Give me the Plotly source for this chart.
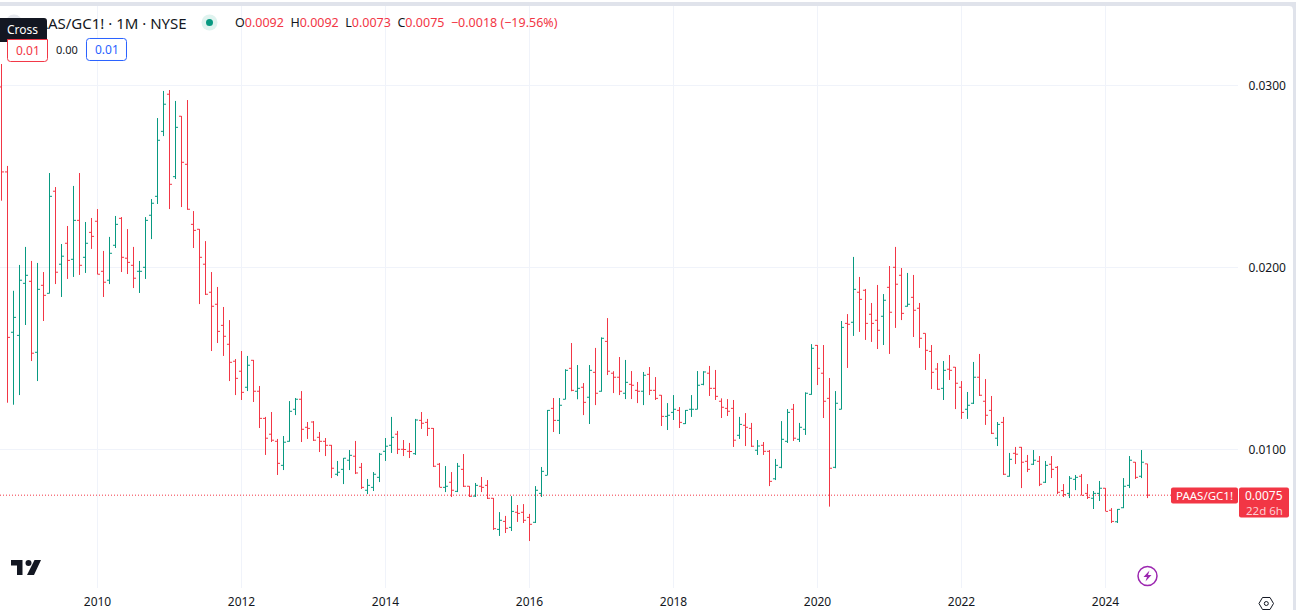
import plotly.graph_objects as go

START_YEAR, START_MONTH = 2008, 9
open_vals = [.02991,.02524,.01643,.01626,.01912,.01923,.01533,.01901,.01857,.02418,.02017,.02132,.02044,.02258,.02055,.02192,.02253,.01978,.01929,.02121,.02269,.02050,.02011,.01978,
.02000,.02286,.02390,.02747,.02951,.02498,.02830,.02566,.02236,.02209,.02017,.01863,.01797,.01681,.01577,.01484,.01429,.01341,.01489,.01319,.01170,.01083,.01044,.00912,
.01044,.01220,.01275,.01121,.01150,.01066,.01044,.01022,.00863,.00890,.00940,.00962,.00901,.00775,.00791,.00846,.00989,.01022,.01083,.01000,.00989,.00976,.01159,.01148,
.01115,.00918,.00791,.00819,.00769,.00890,.00797,.00743,.00797,.00802,.00731,.00560,.00604,.00571,.00654,.00654,.00626,.00599,.00758,.00857,.01225,.01159,.01275,.01445,
.01319,.01341,.01286,.01423,.01319,.01593,.01418,.01396,.01308,.01357,.01324,.01319,.01412,.01324,.01297,.01181,.01203,.01214,.01141,.01220,.01220,.01357,.01418,.01335,
.01264,.01225,.01225,.01077,.01132,.01115,.00995,.01022,.00989,.00838,.00901,.01044,.01220,.01055,.01110,.01302,.01571,.01418,.01280,.00901,.01220,.01692,.01698,.01863,
.01874,.01742,.01709,.01731,.01890,.02000,.01956,.01786,.01835,.01775,.01637,.01538,.01441,.01335,.01440,.01451,.01341,.01220,.01253,.01396,.01264,.01214,.01061,.01148,
.00852,.00978,.01011,.00934,.00918,.00934,.00819,.00918,.00901,.00773,.00758,.00835,.00852,.00758,.00731,.00758,.00786,.00665,.00602,.00679,.00802,.00929,.00852,.00920]
high_vals = [.03117,.02557,.01871,.02013,.02112,.02035,.02024,.01974,.02518,.02441,.02128,.02227,.02447,.02518,.02249,.02271,.02320,.02090,.02167,.02282,.02276,.02210,.02112,.02035,
.02276,.02375,.02820,.02969,.02974,.02914,.02831,.02919,.02309,.02210,.02144,.01974,.01892,.01782,.01710,.01496,.01540,.01513,.01491,.01348,.01178,.01205,.01057,.01073,
.01265,.01282,.01320,.01150,.01155,.01095,.01062,.01024,.00936,.00952,.00996,.01046,.00925,.00837,.00875,.00980,.01062,.01178,.01101,.01051,.01035,.01167,.01205,.01167,
.01117,.00925,.00908,.00875,.00925,.00974,.00798,.00815,.00848,.00831,.00732,.00655,.00634,.00743,.00694,.00699,.00645,.00798,.00903,.01216,.01282,.01282,.01440,.01584,
.01463,.01364,.01463,.01557,.01615,.01721,.01429,.01507,.01491,.01430,.01370,.01425,.01452,.01397,.01298,.01254,.01298,.01232,.01216,.01298,.01430,.01429,.01458,.01436,
.01280,.01276,.01271,.01178,.01199,.01145,.01051,.01040,.00996,.00947,.01155,.01221,.01249,.01145,.01313,.01578,.01573,.01573,.01392,.01320,.01705,.01743,.02057,.01947,
.01881,.01804,.01903,.01853,.02007,.02112,.01996,.01969,.01958,.01804,.01637,.01573,.01474,.01485,.01518,.01452,.01375,.01315,.01480,.01524,.01386,.01293,.01150,.01178,
.00980,.01013,.01013,.00969,.00996,.00963,.00936,.00963,.00908,.00809,.00853,.00859,.00864,.00809,.00771,.00826,.00787,.00677,.00672,.00842,.00963,.00930,.00996,.00920]
low_vals = [.02366,.01256,.01245,.01298,.01683,.01485,.01375,.01705,.01857,.01908,.01837,.01936,.01947,.01958,.01969,.02101,.01962,.01837,.01908,.02106,.01974,.01963,.01886,.01859,
.01936,.02155,.02348,.02721,.02320,.02485,.02331,.02316,.02106,.01798,.01848,.01540,.01584,.01513,.01375,.01298,.01271,.01320,.01260,.01117,.00969,.01040,.00859,.00886,
.01042,.01188,.01040,.01057,.01046,.00985,.00963,.00842,.00853,.00809,.00886,.00864,.00782,.00754,.00771,.00820,.00936,.00980,.00974,.00963,.00952,.00969,.01112,.01073,
.00903,.00793,.00765,.00738,.00765,.00793,.00738,.00738,.00765,.00727,.00557,.00524,.00540,.00551,.00601,.00595,.00496,.00595,.00738,.00859,.01095,.01084,.01275,.01319,
.01275,.01188,.01139,.01243,.01317,.01408,.01309,.01298,.01276,.01276,.01254,.01243,.01298,.01271,.01128,.01106,.01161,.01117,.01139,.01178,.01220,.01352,.01293,.01271,
.01172,.01183,.01013,.01057,.01018,.01013,.00969,.00969,.00798,.00831,.00896,.01035,.01046,.01040,.01079,.01300,.01353,.01172,.00685,.00896,.01220,.01447,.01623,.01645,
.01601,.01590,.01551,.01573,.01524,.01667,.01710,.01784,.01617,.01557,.01436,.01331,.01326,.01271,.01381,.01221,.01167,.01167,.01249,.01293,.01134,.01084,.01018,.00859,
.00850,.00919,.00787,.00875,.00914,.00798,.00815,.00842,.00754,.00738,.00732,.00776,.00749,.00727,.00672,.00716,.00661,.00595,.00595,.00677,.00787,.00837,.00842,.00732]
close_vals = [.02524,.01615,.01725,.01929,.01956,.01528,.01879,.01846,.02390,.01973,.02061,.02038,.02258,.02011,.02132,.02170,.01962,.01918,.02077,.02236,.02055,.02027,.01940,.01978,
.02258,.02352,.02698,.02896,.02456,.02769,.02577,.02319,.02203,.02055,.01852,.01786,.01648,.01621,.01478,.01390,.01313,.01462,.01319,.01170,.01061,.01050,.00923,.01039,
.01209,.01275,.01110,.01115,.01050,.01044,.01022,.00896,.00874,.00951,.00967,.00870,.00791,.00802,.00863,.00973,.01017,.01066,.01000,.00999,.00988,.01161,.01143,.01115,
.00907,.00791,.00797,.00775,.00907,.00797,.00742,.00802,.00791,.00731,.00564,.00610,.00566,.00659,.00648,.00610,.00588,.00775,.00879,.01214,.01159,.01242,.01434,.01324,
.01335,.01258,.01434,.01308,.01610,.01429,.01396,.01319,.01368,.01352,.01319,.01407,.01324,.01280,.01181,.01187,.01220,.01148,.01214,.01220,.01352,.01425,.01335,.01291,
.01231,.01209,.01050,.01137,.01121,.01017,.01018,.00989,.00824,.00912,.01055,.01203,.01061,.01121,.01308,.01555,.01445,.01264,.00896,.01253,.01670,.01687,.01879,.01824,
.01692,.01692,.01654,.01819,.01753,.01907,.01747,.01797,.01764,.01610,.01544,.01423,.01330,.01434,.01434,.01363,.01203,.01242,.01396,.01297,.01187,.01088,.01137,.00863,
.00945,.00973,.00929,.00890,.00940,.00808,.00912,.00890,.00764,.00751,.00841,.00846,.00747,.00736,.00758,.00786,.00659,.00604,.00670,.00797,.00940,.00846,.00929,.00748]
year_ticks = [2010, 2012, 2014, 2016, 2018, 2020, 2022, 2024]
price_ticks = [0.01, 0.02, 0.03]
last_price = 0.00748
FONT = "Noto Sans, Open Sans, sans-serif"
RED, GREEN, INK = "#f23645", "#089981", "#131722"
GRID, EDGE = "#f0f3fa", "#e0e3eb"

months = []
for k in range(len(close_vals)):
    m = START_MONTH - 1 + k
    months.append(f"{START_YEAR + m // 12}-{m % 12 + 1:02d}")

W, H = 1296, 610
PL, PR, PT, PB = 0, 1238, 6, 588


def px(x, y):
    return (x - PL) / (PR - PL), 1 - (y - PT) / (PB - PT)


def fmt(x, y):
    a, b = px(x, y)
    return f"{a:.5f},{b:.5f}"


def rrect(x0, y0, x1, y1, r=3, fill="rgba(0,0,0,0)", line=None, lw=1, corners=(1, 1, 1, 1)):
    tl, tr, br, bl = [r * c for c in corners]
    d = (f"M{fmt(x0 + tl, y0)} L{fmt(x1 - tr, y0)} Q{fmt(x1, y0)} {fmt(x1, y0 + tr)} "
         f"L{fmt(x1, y1 - br)} Q{fmt(x1, y1)} {fmt(x1 - br, y1)} L{fmt(x0 + bl, y1)} "
         f"Q{fmt(x0, y1)} {fmt(x0, y1 - bl)} L{fmt(x0, y0 + tl)} Q{fmt(x0, y0)} {fmt(x0 + tl, y0)} Z")
    return dict(type="path", xref="paper", yref="paper", path=d, fillcolor=fill,
                line=dict(color=line or fill, width=lw if line else 0), layer="above")


def rect(x0, y0, x1, y1, fill):
    return rrect(x0, y0, x1, y1, 0, fill)


def path(points, fill="rgba(0,0,0,0)", line=None, lw=1):
    parts = [("M" if j == 0 else "L") + fmt(x, y) for j, (x, y) in enumerate(points)]
    return dict(type="path", xref="paper", yref="paper", path=" ".join(parts) + " Z",
                fillcolor=fill, line=dict(color=line or fill, width=lw if line else 0), layer="above")


def circle(cx, cy, r, fill="rgba(0,0,0,0)", line=None, lw=1):
    a, b = px(cx - r, cy + r)
    c, d = px(cx + r, cy - r)
    return dict(type="circle", xref="paper", yref="paper", x0=a, y0=b, x1=c, y1=d,
                fillcolor=fill, line=dict(color=line or fill, width=lw if line else 0), layer="above")


def text(x, y, s, color=INK, size=12, anchor="left"):
    a, b = px(x, y)
    return dict(xref="paper", yref="paper", x=a, y=b, text=s, showarrow=False, xanchor=anchor, yanchor="middle",
                font=dict(family=FONT, size=size, color=color), borderpad=0, borderwidth=0)


fig = go.Figure(go.Ohlc(
    x=months, open=open_vals, high=high_vals, low=low_vals, close=close_vals,
    tickwidth=0.42, hoverinfo="skip",
    increasing=dict(line=dict(color=GREEN, width=1)),
    decreasing=dict(line=dict(color=RED, width=1)),
))

shapes = [
    dict(type="line", xref="paper", yref="y", x0=0, x1=1, y0=last_price, y1=last_price,
         line=dict(color=RED, width=1, dash="1px,2px"), layer="above"),
    rect(0, 2, 1296, 6, EDGE),
    rect(1293, 2, 1296, 610, EDGE),
    path([(1293, 6), (1289, 6), (1291.5, 6.6), (1292.4, 7.5), (1293, 10)], EDGE),
    # header controls
    circle(14, 23, 8.5, "#e6e8ee"),
    rrect(0, 18, 47, 42, 3, INK, corners=(0, 1, 1, 0)),
    rrect(7.5, 39.5, 47.5, 61.5, 3, "#ffffff", RED, 1, corners=(0, 0, 1, 1)),
    rrect(86.5, 38.5, 126.5, 60.5, 3, "#ffffff", "#2962ff", 1),
    circle(209.5, 22.5, 8, "#dff3ef"),
    circle(209.5, 22.5, 3.5, GREEN),
    # last-price labels
    rrect(1171, 487.5, 1238, 503.5, 2, RED),
    rrect(1239, 487.5, 1289, 517.5, 2, RED),
    # logo
    path([(11, 560), (22.5, 560), (22.5, 575), (17, 575), (17, 565.5), (11, 565.5)], INK),
    circle(28.5, 563, 3, INK),
    path([(34.5, 560), (41, 560), (34, 575), (27, 575)], INK),
    # lightning badge
    circle(1147.5, 576, 9.5, "#ffffff", "#9c27b0", 1.5),
    path([(1149.5, 570.5), (1143.5, 577), (1147, 577), (1145.5, 581.5), (1151.5, 575), (1148, 575)], "#9c27b0"),
    # settings hexagon
    path([(1259, 603.5), (1262.5, 597.5), (1270, 597.5), (1273.5, 603.5), (1270, 609.5), (1262.5, 609.5)],
         "#ffffff", INK, 1),
    circle(1266.3, 603.5, 2, "#ffffff", INK, 1),
]

annotations = [
    text(30, 22.5, "PAAS/GC1! · 1M · NYSE", INK, 15),
    text(22.5, 30, "Cross", "#ffffff", 12, "center"),
    text(27.5, 50.5, "0.01", RED, 12, "center"),
    text(67, 50, "0.00", INK, 11, "center"),
    text(106.5, 50, "0.01", "#2962ff", 12, "center"),
    text(235, 22.5, f'<span style="color:{INK}">O</span>0.0092  <span style="color:{INK}">H</span>0.0092  '
                    f'<span style="color:{INK}">L</span>0.0073  <span style="color:{INK}">C</span>0.0075  '
                    '−0.0018 (−19.56%)', RED, 12.5),
    text(1204.5, 495.5, "PAAS/GC1!", "#ffffff", 11.5, "center"),
    text(1264, 495.5, "0.0075", "#ffffff", 12, "center"),
    text(1264, 510, "22d 6h", "#fcd0d4", 11.5, "center"),
]

fig.update_layout(
    width=W, height=H, autosize=False, showlegend=False,
    paper_bgcolor="#ffffff", plot_bgcolor="#ffffff",
    margin=dict(l=PL, r=W - PR, t=PT, b=H - PB, pad=0, autoexpand=False),
    font=dict(family=FONT, size=12, color=INK),
    shapes=shapes, annotations=annotations,
    xaxis=dict(
        type="category", categoryorder="array", categoryarray=months,
        range=[-0.25, 206.0833], rangeslider=dict(visible=False), fixedrange=True,
        tickmode="array", tickvals=[f"{y}-01" for y in year_ticks], ticktext=[str(y) for y in year_ticks],
        showgrid=True, gridcolor=GRID, gridwidth=1, zeroline=False, showline=False,
        ticks="outside", ticklen=3, tickcolor="#ffffff", tickfont=dict(size=12, color=INK),
    ),
    yaxis=dict(
        side="right", range=[0.00238, 0.034357], fixedrange=True,
        tickmode="array", tickvals=price_ticks, tickformat=".4f",
        showgrid=True, gridcolor=GRID, gridwidth=1, zeroline=False, showline=False,
        ticks="outside", ticklen=7, tickcolor="#ffffff", tickfont=dict(size=12, color=INK),
    ),
)

fig.write_html("out.html", config=dict(displayModeBar=False),
               post_script="document.body.style.margin='0';document.body.style.overflow='hidden';")
